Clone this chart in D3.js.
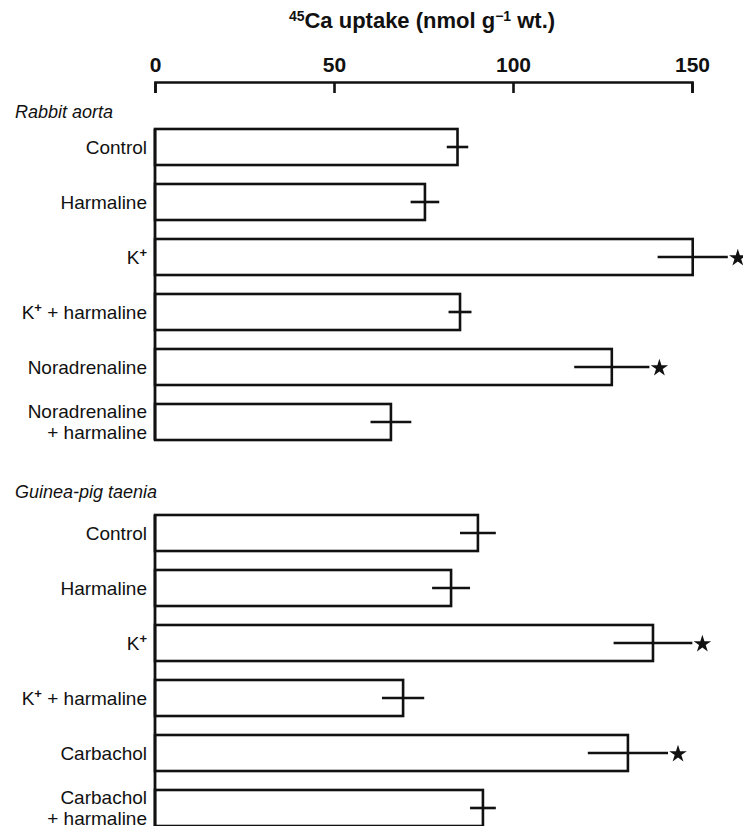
<!DOCTYPE html>
<html>
<head>
<meta charset="utf-8">
<script src="https://cdn.jsdelivr.net/npm/d3@7"></script>
<style>
  body { margin: 0; background: #fff; }
  text { font-family: "Liberation Sans", Arial, Helvetica, sans-serif; fill: #111; }
</style>
</head>
<body>
<div class="chart"></div>
<script>
var width = 743;
var height = 826;

// data
let xTicks = [0, 50, 100, 150];
let xLimits = [0, 150];

let rabbitLabels = ['Control', 'Harmaline', 'K+', 'K+ + harmaline', 'Noradrenaline', 'Noradrenaline|+ harmaline'];
let rabbitMeans = [84.5, 75.4, 150.2, 85.2, 127.6, 65.9];
let rabbitErrors = [3, 4, 9.8, 3.2, 10.5, 5.7];
let rabbitSignificant = [false, false, true, false, true, false];

let guineaLabels = ['Control', 'Harmaline', 'K+', 'K+ + harmaline', 'Carbachol', 'Carbachol|+ harmaline'];
let guineaMeans = [90.2, 82.7, 139.1, 69.3, 132.1, 91.6];
let guineaErrors = [5, 5.3, 11, 5.9, 11.2, 3.6];
let guineaSignificant = [false, false, true, false, true, false];

let groups = [
  {title: 'Rabbit aorta', labels: rabbitLabels, means: rabbitMeans, errors: rabbitErrors, sig: rabbitSignificant, top: 119.5, titleY: 118},
  {title: 'Guinea-pig taenia', labels: guineaLabels, means: guineaMeans, errors: guineaErrors, sig: guineaSignificant, top: 505.5, titleY: 498}
];

let svg = d3.select('.chart')
  .append('svg')
  .attr('width', width)
  .attr('height', height)
;

svg.append('rect')
  .attr('width', width)
  .attr('height', height)
  .style('fill', '#fff');

//scales

let xScale = d3.scaleLinear()
  .domain(xLimits)
  .range([155, 692])
;

let xAxis = d3.axisTop(xScale)
  .tickValues(xTicks)
  .tickSizeInner(-11)
  .tickSizeOuter(-11)
  .tickPadding(10);

let axisG = svg.append('g')
  .attr('transform', 'translate(0, 82)')
  .call(xAxis);

axisG.selectAll('path, line')
  .style('stroke', '#111')
  .style('stroke-width', 2.6);
axisG.selectAll('text')
  .style('font-size', '21px')
  .style('font-weight', 'bold')
  .style('font-family', '"Liberation Sans", Arial, sans-serif')
  .style('fill', '#111');

// axis title
let title = svg.append('text')
  .attr('x', 422)
  .attr('y', 28)
  .style('text-anchor', 'middle')
  .style('font-size', '22px')
  .style('font-weight', 'bold');
title.append('tspan').attr('dy', '-7').style('font-size', '14px').text('45');
title.append('tspan').attr('dy', '7').text('Ca uptake (nmol g');
title.append('tspan').attr('dy', '-7').style('font-size', '14px').text('\u22121');
title.append('tspan').attr('dy', '7').text(' wt.)');

//scales END

function addLabel(g, label, yMid) {
  let lines = label.split('|');
  lines.forEach((line, i) => {
    let t = g.append('text')
      .attr('x', 147)
      .attr('y', yMid + (i - (lines.length - 1) / 2) * 21)
      .attr('dy', '0.36em')
      .style('text-anchor', 'end')
      .style('font-size', '19px');
    let parts = line.split('K+');
    if (parts.length > 1) {
      t.append('tspan').text('K');
      t.append('tspan').attr('dy', '-7').style('font-size', '13px').style('font-weight', 'bold').text('+');
      t.append('tspan').attr('dy', '7').text(parts[1]);
    } else {
      t.text(line);
    }
  });
}

groups.forEach(group => {
  let rows = group.labels.map((label, i) => ({
    label: label,
    mean: group.means[i],
    err: group.errors[i],
    sig: group.sig[i]
  }));

  let yScale = d3.scaleBand()
    .domain(rows.map((d, i) => i))
    .range([group.top, group.top + 55 * rows.length])
    .paddingInner(0.345)
    .paddingOuter(0.1725)
  ;

  let g = svg.append('g');

  g.append('text')
    .attr('x', 15)
    .attr('y', group.titleY)
    .style('font-size', '18px')
    .style('font-style', 'italic')
    .text(group.title);

  let bars = g.selectAll('.bar')
    .data(rows)
    .enter()
    .append('g')
    .attr('class', 'bar');

  bars.append('rect')
    .attr('x', xScale(0))
    .attr('y', (d, i) => yScale(i))
    .attr('width', d => xScale(d.mean) - xScale(0))
    .attr('height', yScale.bandwidth())
    .style('fill', '#fff')
    .style('stroke', '#111')
    .style('stroke-width', 2.6);

  bars.append('line')
    .attr('x1', d => xScale(d.mean - d.err))
    .attr('x2', d => xScale(d.mean + d.err))
    .attr('y1', (d, i) => yScale(i) + yScale.bandwidth() / 2)
    .attr('y2', (d, i) => yScale(i) + yScale.bandwidth() / 2)
    .style('stroke', '#111')
    .style('stroke-width', 2.6);

  bars.filter(d => d.sig)
    .append('path')
    .attr('d', d3.symbol(d3.symbolStar, 95))
    .attr('transform', d => `translate(${xScale(d.mean + d.err) + 10}, ${yScale(rows.indexOf(d)) + yScale.bandwidth() / 2 + 1})`)
    .style('fill', '#111');

  // left edge runs through the whole group
  g.append('line')
    .attr('x1', xScale(0))
    .attr('x2', xScale(0))
    .attr('y1', yScale(0))
    .attr('y2', yScale(rows.length - 1) + yScale.bandwidth())
    .style('stroke', '#111')
    .style('stroke-width', 2.8);

  rows.forEach((d, i) => addLabel(g, d.label, yScale(i) + yScale.bandwidth() / 2));
});
</script>
</body>
</html>
